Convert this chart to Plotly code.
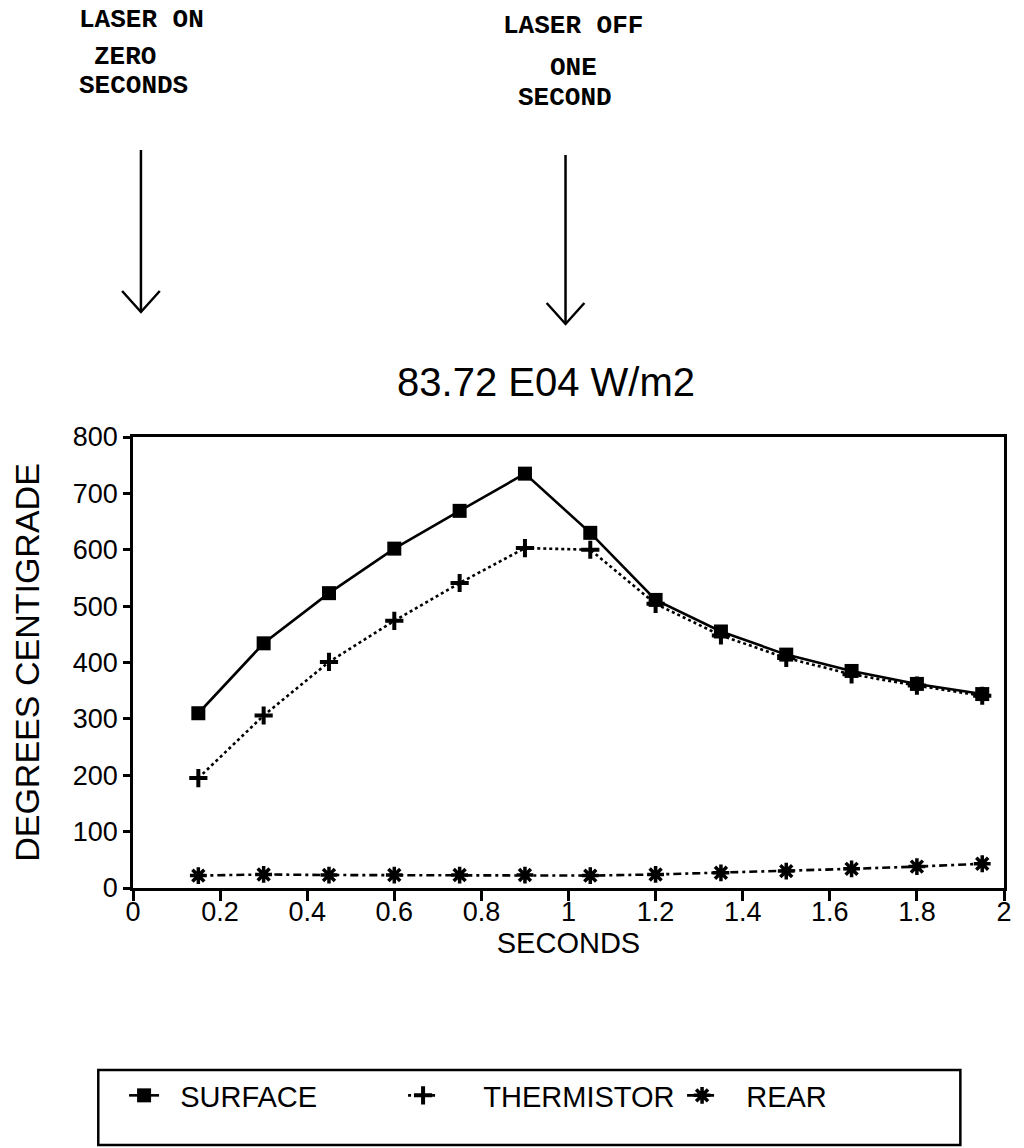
import plotly.graph_objects as go

# ---- data ----
seconds = [0.15, 0.30, 0.45, 0.60, 0.75, 0.90, 1.05, 1.20, 1.35, 1.50, 1.65, 1.80, 1.95]
surface = [310, 434, 523, 602, 669, 735, 630, 511, 455, 414, 385, 362, 344]
thermistor = [195, 306, 401, 474, 541, 603, 600, 504, 448, 408, 379, 359, 341]
rear = [22, 24, 23, 23, 23, 23, 22, 24, 27, 30, 34, 38, 43]

x_ticks = [0, 0.2, 0.4, 0.6, 0.8, 1, 1.2, 1.4, 1.6, 1.8, 2]
x_tick_text = ["0", "0.2", "0.4", "0.6", "0.8", "1", "1.2", "1.4", "1.6", "1.8", "2"]
y_ticks = [0, 100, 200, 300, 400, 500, 600, 700, 800]

series_names = ["SURFACE", "THERMISTOR", "REAR"]
title_text = "83.72 E04 W/m2"
x_title = "SECONDS"
y_title = "DEGREES CENTIGRADE"

W, H = 1024, 1148
L, R, T, B = 133, 13, 437, 260
PW, PH = W - L - R, H - T - B


def py(pix_y):
    """pixel y from top -> paper y"""
    return (H - B - pix_y) / PH


def px(pix_x):
    return (pix_x - L) / PW


SANS = "Liberation Sans, Arial, sans-serif"
MONO = "Liberation Mono, Courier New, monospace"
NB = "\u00a0"

fig = go.Figure()
fig.add_trace(go.Scatter(
    x=seconds, y=surface, name=NB * 2 + series_names[0], mode="lines+markers",
    line=dict(color="black", width=2.6),
    marker=dict(symbol="square", size=14, color="black"),
))
fig.add_trace(go.Scatter(
    x=seconds, y=thermistor, name=NB * 5 + series_names[1], mode="lines+markers",
    line=dict(color="black", width=2.6, dash="dot"),
    marker=dict(symbol="cross-thin-open", size=13, line=dict(color="black", width=4)),
))
fig.add_trace(go.Scatter(
    x=seconds, y=rear, name=NB * 3 + series_names[2], mode="lines+markers",
    line=dict(color="black", width=2.6, dash="8px,4px,3px,4px"),
    marker=dict(symbol="asterisk-open", size=14, line=dict(color="black", width=3.5)),
))

fig.update_layout(
    width=W, height=H,
    margin=dict(l=L, r=R, t=T, b=B, pad=0),
    paper_bgcolor="white", plot_bgcolor="white",
    font=dict(family=SANS, color="black", size=27),
    title=dict(text=title_text, x=546 / W, xanchor="center", xref="container",
               y=1 - 382 / H, yanchor="middle",
               font=dict(family=SANS, size=40, color="black")),
    showlegend=True,
    legend=dict(orientation="h", x=px(124), xanchor="left", y=py(1070), yanchor="top",
                bgcolor="rgba(0,0,0,0)", borderwidth=0,
                font=dict(family=SANS, size=29, color="black"),
                entrywidth=234, entrywidthmode="pixels", traceorder="normal"),
)

fig.update_xaxes(
    range=[0, 2], tickvals=x_ticks, ticktext=x_tick_text,
    showline=True, linecolor="black", linewidth=2.5, mirror=True,
    ticks="outside", ticklen=10, tickwidth=2.5, tickcolor="black",
    showgrid=False, zeroline=False, ticklabelstandoff=-12,
    tickfont=dict(family=SANS, size=27),
    title=dict(text=x_title, font=dict(family=SANS, size=29), standoff=0),
)
fig.update_yaxes(
    range=[0, 800], tickvals=y_ticks,
    showline=True, linecolor="black", linewidth=2.5, mirror=True,
    ticks="outside", ticklen=7, tickwidth=2.5, tickcolor="black",
    showgrid=False, zeroline=False,
    tickfont=dict(family=SANS, size=27),
    title=dict(text=y_title, font=dict(family=SANS, size=34), standoff=23),
)

# legend frame
fig.add_shape(type="rect", xref="paper", yref="paper",
              x0=px(98), x1=px(967), y0=py(1145), y1=py(1070),
              line=dict(color="black", width=2.5), fillcolor="rgba(0,0,0,0)")

# top notes (typewriter text)
notes = [
    ("LASER ON", 142, 20),
    ("ZERO", 125, 57),
    ("SECONDS", 133, 86),
    ("LASER OFF", 577, 26),
    ("ONE", 577, 68),
    ("SECOND", 568, 98),
]
for txt, nx, ny in notes:
    fig.add_annotation(text=txt, xref="paper", yref="paper", x=px(nx), y=py(ny),
                       xanchor="center", yanchor="middle", showarrow=False,
                       font=dict(family=MONO, size=26, color="black", weight="bold"))

# hand-drawn arrows
for ax_pix, y_top, y_bot in [(141, 150, 312), (569, 155, 324)]:
    x0 = px(ax_pix)
    fig.add_shape(type="line", xref="paper", yref="paper",
                  x0=x0, x1=x0, y0=py(y_top), y1=py(y_bot),
                  line=dict(color="black", width=2.5))
    fig.add_shape(type="path", xref="paper", yref="paper",
                  path=f"M {px(ax_pix-19)},{py(y_bot-21)} L {x0},{py(y_bot)} L {px(ax_pix+19)},{py(y_bot-21)}",
                  line=dict(color="black", width=2.5))

fig.write_html("out.html")
